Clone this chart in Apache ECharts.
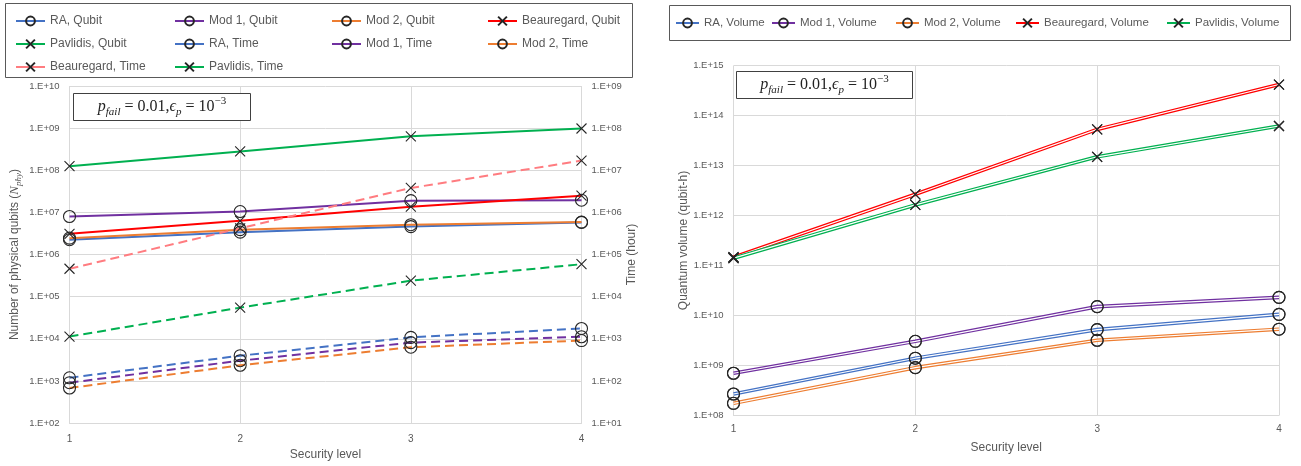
<!DOCTYPE html>
<html>
<head>
<meta charset="utf-8">
<script src="https://cdn.jsdelivr.net/npm/echarts@6/dist/echarts.min.js"></script>
<style>
  html, body { margin: 0; padding: 0; background: #fff; }
  #chart { width: 1301px; height: 466px; }
</style>
</head>
<body>
<div id="chart"></div>
<script>
// security levels (x axis)
var levels = [1, 2, 3, 4];

// left chart: physical qubits (left axis)
var raQubit = [2.25e6, 3.4e6, 4.6e6, 5.8e6];
var mod1Qubit = [8.0e6, 1.05e7, 1.9e7, 1.95e7];
var mod2Qubit = [2.45e6, 3.9e6, 5.1e6, 5.9e6];
var beauQubit = [3.1e6, 6.3e6, 1.37e7, 2.5e7];
var pavQubit = [1.25e8, 2.8e8, 6.4e8, 9.8e8];

// left chart: time in hours (right axis)
var raTime = [119, 398, 1085, 1760];
var mod1Time = [91, 303, 814, 1120];
var mod2Time = [68, 236, 632, 910];
var beauTime = [4.6e4, 4.2e5, 3.8e6, 1.7e7];
var pavTime = [1.13e3, 5.5e3, 2.4e4, 5.9e4];

// right chart: quantum volume (qubit-h)
var raVol = [2.67e8, 1.39e9, 5.2e9, 1.05e10];
var mod1Vol = [6.95e8, 3.03e9, 1.5e10, 2.3e10];
var mod2Vol = [1.74e8, 9.0e8, 3.18e9, 5.3e9];
var beauVol = [1.46e11, 2.66e12, 5.3e13, 4.2e14];
var pavVol = [1.4e11, 1.63e12, 1.5e13, 6.2e13];

var C = {
    blue: '#4472C4', purple: '#7030A0', orange: '#ED7D31',
    red: '#FF0000', green: '#00B050', pink: '#FF7C80'
};
var gray = '#595959';
var gridColor = '#d9d9d9';
var crossPath = 'path://M0,0L10,10M10,0L0,10';

var toPoints = function (arr) {
    return levels.map(function (x, i) { return [x, arr[i]]; });
};

var expLabel = function (v) {
    var e = Math.round(Math.log10(v));
    return '1.E+' + (e < 10 ? '0' : '') + e;
};

var markerStyle = function (sym) {
    return {
        symbol: sym === 'x' ? crossPath : 'circle',
        symbolSize: sym === 'x' ? 10 : 12,
        itemStyle: { color: 'rgba(0,0,0,0)', borderColor: '#262626', borderWidth: 1.1 }
    };
};

// left chart series
var leftSeries = function (name, data, color, sym, yIdx, dashed) {
    var m = markerStyle(sym);
    return {
        name: name,
        type: 'line',
        xAxisIndex: 0,
        yAxisIndex: yIdx,
        data: toPoints(data),
        symbol: m.symbol,
        symbolSize: m.symbolSize,
        symbolKeepAspect: true,
        itemStyle: m.itemStyle,
        lineStyle: { color: color, width: 2, type: dashed ? [9, 5] : 'solid' },
        emphasis: { disabled: true },
        animation: false
    };
};

// right chart: double line = colored line + white core + markers on top
var volSeries = function (name, data, color, sym) {
    var m = markerStyle(sym);
    return [{
        name: name,
        type: 'line',
        xAxisIndex: 1,
        yAxisIndex: 2,
        data: toPoints(data),
        symbol: m.symbol,
        symbolSize: m.symbolSize,
        symbolKeepAspect: true,
        itemStyle: m.itemStyle,
        lineStyle: { color: color, width: 3.6 },
        emphasis: { disabled: true },
        animation: false
    }, {
        name: name + ' core',
        type: 'line',
        xAxisIndex: 1,
        yAxisIndex: 2,
        data: toPoints(data),
        symbol: 'none',
        silent: true,
        lineStyle: { color: '#fff', width: 1.2 },
        animation: false
    }, {
        name: name + ' marks',
        type: 'line',
        xAxisIndex: 1,
        yAxisIndex: 2,
        data: toPoints(data),
        symbol: m.symbol,
        symbolSize: m.symbolSize,
        symbolKeepAspect: true,
        itemStyle: m.itemStyle,
        lineStyle: { width: 0, opacity: 0 },
        silent: true,
        animation: false
    }];
};

var series = [
    leftSeries('RA, Qubit', raQubit, C.blue, 'o', 0, false),
    leftSeries('Mod 1, Qubit', mod1Qubit, C.purple, 'o', 0, false),
    leftSeries('Mod 2, Qubit', mod2Qubit, C.orange, 'o', 0, false),
    leftSeries('Beauregard, Qubit', beauQubit, C.red, 'x', 0, false),
    leftSeries('Pavlidis, Qubit', pavQubit, C.green, 'x', 0, false),
    leftSeries('RA, Time', raTime, C.blue, 'o', 1, true),
    leftSeries('Mod 1, Time', mod1Time, C.purple, 'o', 1, true),
    leftSeries('Mod 2, Time', mod2Time, C.orange, 'o', 1, true),
    leftSeries('Beauregard, Time', beauTime, C.pink, 'x', 1, true),
    leftSeries('Pavlidis, Time', pavTime, C.green, 'x', 1, true)
].concat(
    volSeries('RA, Volume', raVol, C.blue, 'o'),
    volSeries('Mod 1, Volume', mod1Vol, C.purple, 'o'),
    volSeries('Mod 2, Volume', mod2Vol, C.orange, 'o'),
    volSeries('Beauregard, Volume', beauVol, C.red, 'x'),
    volSeries('Pavlidis, Volume', pavVol, C.green, 'x')
);

var makeLegend = function (names, left, top, orient, w, fs) {
    return {
        data: names,
        left: left,
        top: top,
        orient: orient,
        itemWidth: w,
        itemHeight: 11,
        itemGap: 11,
        padding: 0,
        selectedMode: false,
        textStyle: { color: gray, fontSize: fs, fontFamily: 'Liberation Sans' },
        lineStyle: { type: 'solid' }
    };
};

var xAxisBase = function (gridIndex, margin, gap) {
    return {
        type: 'value',
        gridIndex: gridIndex,
        min: 1,
        max: 4,
        interval: 1,
        name: 'Security level',
        nameLocation: 'middle',
        nameGap: gap,
        nameTextStyle: { color: gray, fontSize: 12, fontFamily: 'Liberation Sans' },
        axisLine: { lineStyle: { color: gridColor } },
        axisTick: { show: false },
        axisLabel: { color: gray, fontSize: 10, margin: margin, fontFamily: 'Liberation Sans' },
        splitLine: { lineStyle: { color: gridColor } }
    };
};

var yAxisBase = function (gridIndex, min, max, pos, split) {
    return {
        type: 'log',
        logBase: 10,
        gridIndex: gridIndex,
        position: pos,
        min: min,
        max: max,
        splitNumber: Math.round(Math.log10(max / min)),
        axisLine: { show: false },
        axisTick: { show: false },
        axisLabel: { color: gray, fontSize: 9.5, margin: 10, fontFamily: 'Liberation Sans', formatter: expLabel },
        splitLine: { show: split, lineStyle: { color: gridColor } },
        minorTick: { show: false },
        nameLocation: 'middle',
        nameTextStyle: { color: gray, fontSize: 12, fontFamily: 'Liberation Sans' }
    };
};

var yLeft = yAxisBase(0, 1e2, 1e10, 'left', true);
yLeft.name = '{a|Number of physical qubits (}{i|N}{s|phy}{a|)}';
yLeft.nameGap = 46;
yLeft.nameTextStyle.rich = {
    a: { color: gray, fontSize: 12, fontFamily: 'Liberation Sans', lineHeight: 18 },
    i: { color: gray, fontSize: 13, fontFamily: 'Liberation Serif', fontStyle: 'italic', lineHeight: 18 },
    s: { color: gray, fontSize: 9, fontFamily: 'Liberation Serif', fontStyle: 'italic', lineHeight: 9, verticalAlign: 'bottom' }
};

var yTime = yAxisBase(0, 1e1, 1e9, 'right', false);
yTime.name = 'Time (hour)';
yTime.nameGap = 44;

var yVol = yAxisBase(1, 1e8, 1e15, 'left', true);
yVol.name = 'Quantum volume (qubit-h)';
yVol.nameGap = 44;

var mathRich = {
    i: { fontFamily: 'Liberation Serif', fontStyle: 'italic', fontSize: 16, lineHeight: 22, verticalAlign: 'middle', fill: '#222' },
    n: { fontFamily: 'Liberation Serif', fontSize: 16, lineHeight: 22, verticalAlign: 'middle', fill: '#222' },
    s: { fontFamily: 'Liberation Serif', fontStyle: 'italic', fontSize: 11, lineHeight: 10, verticalAlign: 'bottom', fill: '#222' },
    u: { fontFamily: 'Liberation Serif', fontSize: 11, lineHeight: 10, verticalAlign: 'top', fill: '#222' }
};
var mathText = '{i|p}{s|fail}{n| = 0.01,}{i|ϵ}{s|p}{n| = 10}{u|−3}';

var mathBox = function (x, y, w, h) {
    return [{
        type: 'rect',
        shape: { x: x, y: y, width: w, height: h },
        style: { fill: '#fff', stroke: '#404040', lineWidth: 1 },
        z: 10
    }, {
        type: 'text',
        x: x + w / 2,
        y: y + h / 2,
        style: { text: mathText, rich: mathRich, align: 'center', verticalAlign: 'middle' },
        z: 11
    }];
};

var option = {
    backgroundColor: '#fff',
    animation: false,
    grid: [
        { left: 69.5, top: 86, width: 512, height: 341 },
        { left: 733.5, top: 65.7, width: 545.5, height: 349.6 }
    ],
    xAxis: [xAxisBase(0, 11, 25), xAxisBase(1, 9, 26)],
    yAxis: [yLeft, yTime, yVol],
    legend: [
        makeLegend(['RA, Qubit', 'Pavlidis, Qubit', 'Beauregard, Time'], 15, 15, 'vertical', 29, 12),
        makeLegend(['Mod 1, Qubit', 'RA, Time', 'Pavlidis, Time'], 174, 15, 'vertical', 29, 12),
        makeLegend(['Mod 2, Qubit', 'Mod 1, Time'], 331, 15, 'vertical', 29, 12),
        makeLegend(['Beauregard, Qubit', 'Mod 2, Time'], 487, 15, 'vertical', 29, 12),
        makeLegend(['RA, Volume'], 675, 17, 'horizontal', 23, 11.5),
        makeLegend(['Mod 1, Volume'], 771, 17, 'horizontal', 23, 11.5),
        makeLegend(['Mod 2, Volume'], 895, 17, 'horizontal', 23, 11.5),
        makeLegend(['Beauregard, Volume'], 1015, 17, 'horizontal', 23, 11.5),
        makeLegend(['Pavlidis, Volume'], 1166, 17, 'horizontal', 23, 11.5)
    ],
    graphic: [
        {
            type: 'rect',
            shape: { x: 5.5, y: 3.5, width: 627, height: 74 },
            style: { fill: 'none', stroke: '#595959', lineWidth: 1 }
        },
        {
            type: 'rect',
            shape: { x: 669.5, y: 5.5, width: 621, height: 35 },
            style: { fill: 'none', stroke: '#595959', lineWidth: 1 }
        }
    ].concat(mathBox(73.5, 93.5, 177, 27), mathBox(736.5, 71.5, 176, 27)),
    series: series
};

var chart = echarts.init(document.getElementById('chart'));
chart.setOption(option);
</script>
</body>
</html>
